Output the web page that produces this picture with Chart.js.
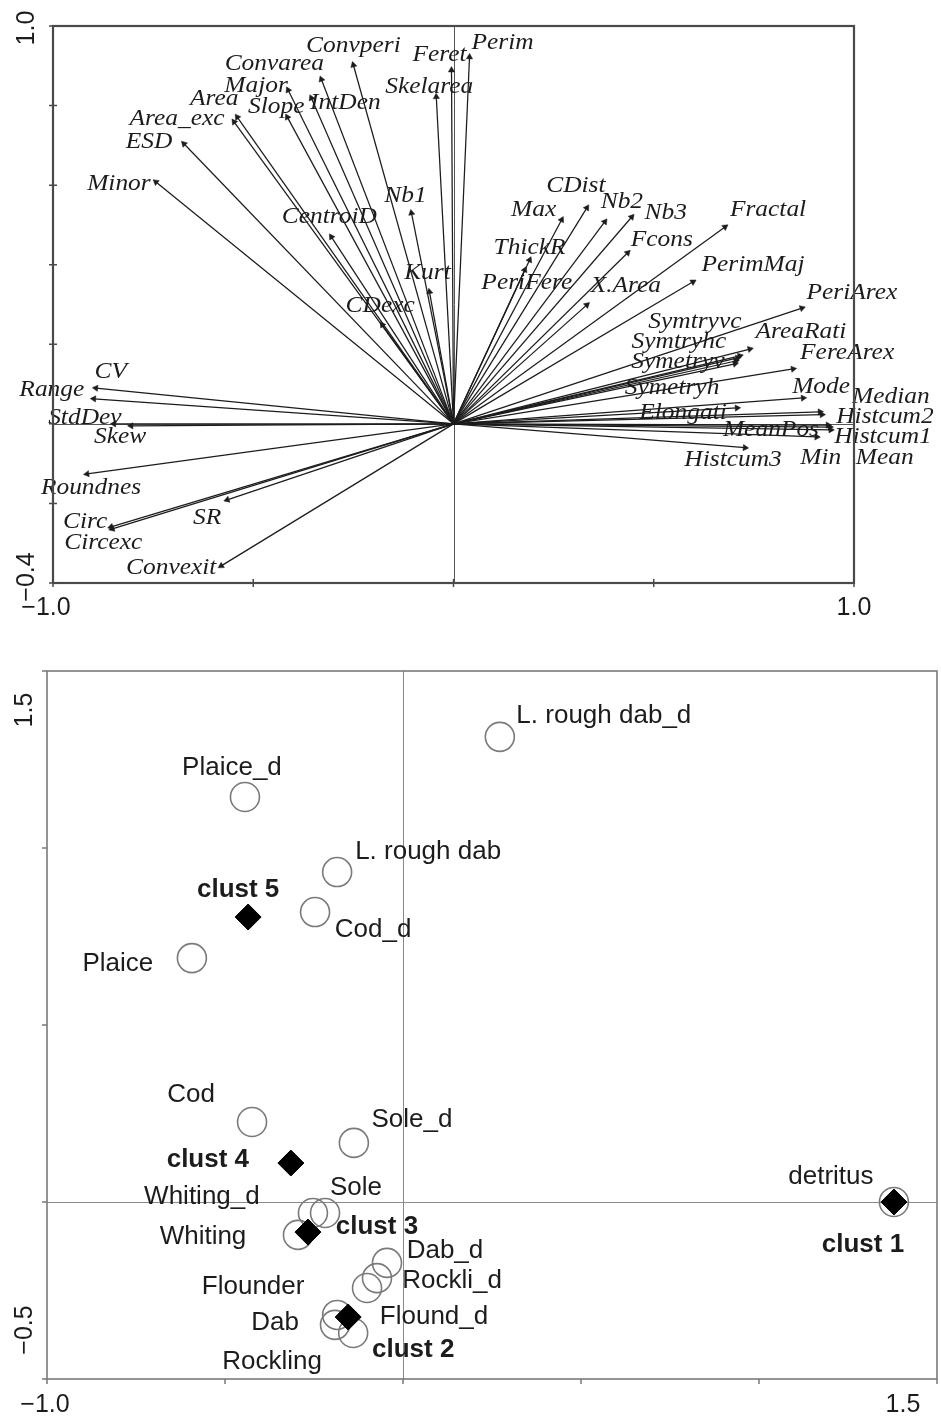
<!DOCTYPE html>
<html>
<head>
<meta charset="utf-8">
<title>Descriptor loadings and group scores</title>
<script src="https://cdn.jsdelivr.net/npm/chart.js@4.4.1/dist/chart.umd.min.js"></script>
<style>
  html, body { margin: 0; padding: 0; background: #ffffff; }
  #wrap { position: relative; width: 941px; height: 1420px; background: #ffffff; }
  canvas { position: absolute; left: 0; }
  #loadings { top: 0; }
  #scores { top: 630px; }
</style>
</head>
<body>
<div id="wrap">
  <canvas id="loadings" width="941" height="630"></canvas>
  <canvas id="scores" width="941" height="790"></canvas>
</div>
<script>
// ---------- Upper panel: descriptor vectors (axis 1 / axis 2) ----------
const descriptors = [
  'Convperi', 'Feret', 'Perim', 'Convarea', 'Major', 'Skelarea', 'Area', 'Slope',
  'IntDen', 'Area_exc', 'ESD', 'Minor', 'CentroiD', 'Nb1', 'Kurt', 'CDexc',
  'CV', 'Range', 'StdDev', 'Skew', 'Roundnes', 'SR', 'Circ', 'Circexc', 'Convexit',
  'CDist', 'Max', 'Nb2', 'Nb3', 'Fractal', 'ThickR', 'Fcons', 'PeriFere', 'X.Area',
  'PerimMaj', 'PeriArex', 'AreaRati', 'Symtryvc', 'Symtryhc', 'Symetryv', 'Symetryh',
  'FereArex', 'Mode', 'Median', 'Elongati', 'Histcum2', 'MeanPos', 'Histcum1',
  'Histcum3', 'Min', 'Mean'
];
const descAxis1 = [
  -0.250, -0.005, 0.040, -0.330, -0.413, -0.043, -0.540, -0.415,
  -0.355, -0.548, -0.673, -0.743, -0.305, -0.105, -0.060, -0.178,
  -0.893, -0.898, -0.848, -0.805, -0.915, -0.565, -0.855, -0.852, -0.580,
  0.333, 0.270, 0.378, 0.445, 0.678, 0.190, 0.435, 0.178, 0.333,
  0.598, 0.870, 0.740, 0.715, 0.710, 0.705, 0.703,
  0.848, 0.873, 0.915, 0.708, 0.920, 0.935, 0.940,
  0.728, 0.907, 0.942
];
const descAxis2 = [
  0.902, 0.889, 0.922, 0.866, 0.839, 0.822, 0.771, 0.771,
  0.819, 0.759, 0.704, 0.608, 0.470, 0.530, 0.332, 0.249,
  0.090, 0.063, 0.000, -0.005, -0.126, -0.191, -0.259, -0.264, -0.357,
  0.543, 0.513, 0.508, 0.520, 0.495, 0.412, 0.430, 0.387, 0.299,
  0.357, 0.291, 0.188, 0.171, 0.166, 0.158, 0.151,
  0.138, 0.065, 0.030, 0.040, 0.023, -0.003, -0.008,
  -0.060, -0.033, -0.015
];
const loadXTicks = [-1.0, -0.5, 0, 0.5, 1.0];
const loadYTicks = [-0.4, -0.2, 0, 0.2, 0.4, 0.6, 0.8, 1.0];
const loadXLabels = ['\u22121.0', '', '', '', '1.0'];
const loadYLabels = ['\u22120.4', '', '', '', '', '', '', '1.0'];

// ---------- Lower panel: prey groups and cluster centres ----------
const groups = [
  'detritus', 'L. rough dab_d', 'Plaice_d', 'L. rough dab', 'Cod_d', 'Plaice', 'Cod',
  'Sole_d', 'Whiting_d', 'Sole', 'Whiting', 'Dab_d', 'Rockli_d', 'Flound_d',
  'Flounder', 'Dab', 'Rockling'
];
const groupAxis1 = [
  1.379, 0.272, -0.444, -0.185, -0.247, -0.593, -0.424,
  -0.138, -0.253, -0.219, -0.295, -0.045, -0.073, -0.101,
  -0.185, -0.191, -0.140
];
const groupAxis2 = [
  0.000, 1.314, 1.144, 0.932, 0.819, 0.689, 0.226,
  0.167, -0.031, -0.031, -0.093, -0.172, -0.215, -0.243,
  -0.319, -0.347, -0.370
];
const clusters = ['clust 1', 'clust 2', 'clust 3', 'clust 4', 'clust 5'];
const clusterAxis1 = [1.379, -0.154, -0.267, -0.315, -0.435];
const clusterAxis2 = [0.000, -0.325, -0.085, 0.110, 0.805];
const scoreXTicks = [-1.0, -0.5, 0, 0.5, 1.0, 1.5];
const scoreYTicks = [-0.5, 0, 0.5, 1.0, 1.5];
const scoreXLabels = ['\u22121.0', '', '', '', '', '1.5'];
const scoreYLabels = ['\u22120.5', '', '', '', '1.5'];

// ---------- Label placement (pixel nudges from each mark) ----------
const descNudge = {
  'Convperi': [0, -19], 'Feret': [-12, -15], 'Perim': [33, -14], 'Convarea': [-47, -16],
  'Major': [-32, -4], 'Skelarea': [-7, -10], 'Area': [-23, -18], 'Slope': [-11, -10],
  'IntDen': [34, 5], 'Area_exc': [-57, -3], 'ESD': [-35, -2], 'Minor': [-37, 2],
  'CentroiD': [-2, -20], 'Nb1': [-6, -17], 'Kurt': [-2, -19], 'CDexc': [-2, -19],
  'CV': [15, -16], 'Range': [-42, -9], 'StdDev': [-29, -6], 'Skew': [-11, 11],
  'Roundnes': [4, 14], 'SR': [-20, 18], 'Circ': [-26, -5], 'Circexc': [-9, 14],
  'Convexit': [-50, 2], 'CDist': [-11, -22], 'Max': [-28, -10], 'Nb2': [17, -20],
  'Nb3': [34, -4], 'Fractal': [43, -17], 'ThickR': [0, -12], 'Fcons': [34, -13],
  'PeriFere': [2, 13], 'X.Area': [39, -19], 'PerimMaj': [60, -17], 'PeriArex': [50, -15],
  'AreaRati': [51, -17], 'Symtryvc': [-45, -34], 'Symtryhc': [-59, -16],
  'Symetryv': [-58, 1], 'Symetryh': [-63, 24], 'FereArex': [54, -16], 'Mode': [18, -11],
  'Median': [71, -15], 'Elongati': [-54, 5], 'Histcum2': [63, 2], 'MeanPos': [-57, 5],
  'Histcum1': [53, 10], 'Histcum3': [-12, 12], 'Min': [4, 21], 'Mean': [54, 28]
};
const groupNudge = {
  'detritus': [-63, -25], 'L. rough dab_d': [104, -21], 'Plaice_d': [-13, -29],
  'L. rough dab': [91, -20], 'Cod_d': [58, 18], 'Plaice': [-74, 6], 'Cod': [-61, -27],
  'Sole_d': [58, -23], 'Whiting_d': [-111, -16], 'Sole': [31, -25], 'Whiting': [-95, 2],
  'Dab_d': [58, -12], 'Rockli_d': [75, 3], 'Flound_d': [67, 29], 'Flounder': [-84, -28],
  'Dab': [-60, -2], 'Rockling': [-81, 29]
};
const clusterNudge = {
  'clust 1': [-31, 43], 'clust 2': [65, 33], 'clust 3': [69, -5],
  'clust 4': [-83, -3], 'clust 5': [-10, -27]
};

const INK = '#1c1c1c';
const SANS = '"Liberation Sans", Arial, sans-serif';
const SERIF = '"Liberation Serif", "Times New Roman", serif';

// Frame, zero lines, tick marks and end tick labels drawn from the scales.
function axesPlugin(cfg) {
  return {
    id: 'axesFrame',
    beforeDatasetsDraw(chart) {
      const { ctx, chartArea: a, scales: { x, y } } = chart;
      ctx.save();
      ctx.strokeStyle = cfg.zeroColor;
      ctx.lineWidth = 1;
      const x0 = Math.round(x.getPixelForValue(0)) + 0.5;
      const y0 = Math.round(y.getPixelForValue(0)) + 0.5;
      ctx.beginPath();
      ctx.moveTo(x0, a.top); ctx.lineTo(x0, a.bottom);
      ctx.moveTo(a.left, y0); ctx.lineTo(a.right, y0);
      ctx.stroke();
      ctx.restore();
    },
    afterDraw(chart) {
      const { ctx, chartArea: a, scales: { x, y } } = chart;
      ctx.save();
      ctx.strokeStyle = cfg.frameColor;
      ctx.lineWidth = cfg.frameWidth;
      ctx.strokeRect(a.left, a.top, a.right - a.left, a.bottom - a.top);
      ctx.lineWidth = 1.5;
      ctx.beginPath();
      cfg.xTicks.forEach(v => {
        const px = x.getPixelForValue(v);
        ctx.moveTo(px, a.bottom + cfg.tickIn); ctx.lineTo(px, a.bottom + cfg.tickOut);
      });
      cfg.yTicks.forEach(v => {
        const py = y.getPixelForValue(v);
        ctx.moveTo(a.left - cfg.tickIn, py); ctx.lineTo(a.left - cfg.tickOut, py);
      });
      ctx.stroke();
      ctx.fillStyle = INK;
      ctx.font = cfg.tickFont;
      ctx.textBaseline = 'middle';
      ctx.textAlign = 'center';
      cfg.xTicks.forEach((v, i) => {
        const t = cfg.xLabels[i];
        if (!t) return;
        const sh = cfg.xLabelShift[i] || 0;
        ctx.fillText(t, x.getPixelForValue(v) + sh, a.bottom + cfg.xLabelGap);
      });
      cfg.yTicks.forEach((v, i) => {
        const t = cfg.yLabels[i];
        if (!t) return;
        const sh = cfg.yLabelShift[i] || 0;
        ctx.save();
        ctx.translate(a.left - cfg.yLabelGap, y.getPixelForValue(v) + sh);
        ctx.rotate(-Math.PI / 2);
        ctx.fillText(t, 0, 0);
        ctx.restore();
      });
      ctx.restore();
    }
  };
}

// Text labels placed next to the marks of chosen datasets.
function labelPlugin(items) {
  return {
    id: 'markLabels',
    afterDatasetsDraw(chart) {
      const { ctx, scales: { x, y } } = chart;
      ctx.save();
      ctx.fillStyle = INK;
      ctx.textAlign = 'center';
      ctx.textBaseline = 'middle';
      items.forEach(it => {
        ctx.font = it.font;
        it.names.forEach((n, i) => {
          const d = it.nudge[n] || [0, 0];
          const px = x.getPixelForValue(it.xs[i]) + d[0];
          const py = y.getPixelForValue(it.ys[i]) + d[1];
          ctx.save();
          ctx.translate(px, py);
          ctx.scale(it.stretch, 1);
          ctx.fillText(n, 0, 0);
          ctx.restore();
        });
      });
      ctx.restore();
    }
  };
}

// Hidden linear scale: no axis or tick labels, so the layout padding alone
// fixes the plotting rectangle.
function hiddenScale(min, max) {
  return { type: 'linear', min, max, display: false, ticks: { display: false },
           grid: { display: false }, border: { display: false } };
}

// ----- Upper chart: one line dataset per descriptor, arrowhead on the tip -----
const arrowSets = descriptors.map((name, i) => {
  const vx = descAxis1[i], vy = descAxis2[i];
  const rot = Math.atan2(vx * 400, vy * 398) * 180 / Math.PI;
  return {
    label: name,
    data: [{ x: 0, y: 0 }, { x: vx, y: vy }],
    showLine: true,
    borderColor: INK,
    borderWidth: 1.25,
    pointStyle: 'triangle',
    pointRadius: [0, 3.6],
    pointRotation: [0, rot],
    pointBackgroundColor: INK,
    pointBorderColor: INK,
    pointBorderWidth: 0.5,
    clip: false
  };
});

new Chart(document.getElementById('loadings'), {
  type: 'scatter',
  data: { datasets: arrowSets },
  options: {
    responsive: false,
    animation: false,
    events: [],
    layout: { autoPadding: false, padding: { left: 53, right: 87, top: 26, bottom: 47 } },
    plugins: { legend: { display: false }, tooltip: { enabled: false } },
    scales: { x: hiddenScale(-1.0, 1.0), y: hiddenScale(-0.4, 1.0) }
  },
  plugins: [
    axesPlugin({
      zeroColor: '#555555', frameColor: '#4a4a4a', frameWidth: 2.2,
      xTicks: loadXTicks, yTicks: loadYTicks,
      xLabels: loadXLabels, yLabels: loadYLabels,
      xLabelShift: [-7, 0, 0, 0, 0], yLabelShift: [-6, 0, 0, 0, 0, 0, 0, 2],
      tickIn: -4, tickOut: 4, xLabelGap: 25, yLabelGap: 26,
      tickFont: '25px ' + SANS
    }),
    labelPlugin([
      { names: descriptors, xs: descAxis1, ys: descAxis2, nudge: descNudge,
        font: 'italic 24px ' + SERIF, stretch: 1.06 }
    ])
  ]
});

// ----- Lower chart: open circles for groups, filled diamonds for clusters -----
new Chart(document.getElementById('scores'), {
  type: 'scatter',
  data: {
    datasets: [
      {
        label: 'clusters',
        data: clusters.map((c, i) => ({ x: clusterAxis1[i], y: clusterAxis2[i] })),
        pointStyle: 'rectRot',
        pointRadius: 13,
        pointBackgroundColor: '#000000',
        pointBorderColor: '#000000',
        pointBorderWidth: 1,
        order: 0
      },
      {
        label: 'groups',
        data: groups.map((g, i) => ({ x: groupAxis1[i], y: groupAxis2[i] })),
        pointStyle: 'circle',
        pointRadius: 14.5,
        pointBackgroundColor: 'rgba(0,0,0,0)',
        pointBorderColor: '#7a7a7a',
        pointBorderWidth: 1.6,
        order: 1
      }
    ]
  },
  options: {
    responsive: false,
    animation: false,
    events: [],
    layout: { autoPadding: false, padding: { left: 47, right: 4, top: 41, bottom: 41 } },
    plugins: { legend: { display: false }, tooltip: { enabled: false } },
    scales: { x: hiddenScale(-1.0, 1.5), y: hiddenScale(-0.5, 1.5) }
  },
  plugins: [
    axesPlugin({
      zeroColor: '#8a8a8a', frameColor: '#7a7a7a', frameWidth: 1.6,
      xTicks: scoreXTicks, yTicks: scoreYTicks,
      xLabels: scoreXLabels, yLabels: scoreYLabels,
      xLabelShift: [-2, 0, 0, 0, 0, -34], yLabelShift: [-49, 0, 0, 0, 39],
      tickIn: 0, tickOut: 5, xLabelGap: 26, yLabelGap: 22,
      tickFont: '25px ' + SANS
    }),
    labelPlugin([
      { names: groups, xs: groupAxis1, ys: groupAxis2, nudge: groupNudge,
        font: '25px ' + SANS, stretch: 1.04 },
      { names: clusters, xs: clusterAxis1, ys: clusterAxis2, nudge: clusterNudge,
        font: 'bold 25px ' + SANS, stretch: 1.04 }
    ])
  ]
});
</script>
</body>
</html>
